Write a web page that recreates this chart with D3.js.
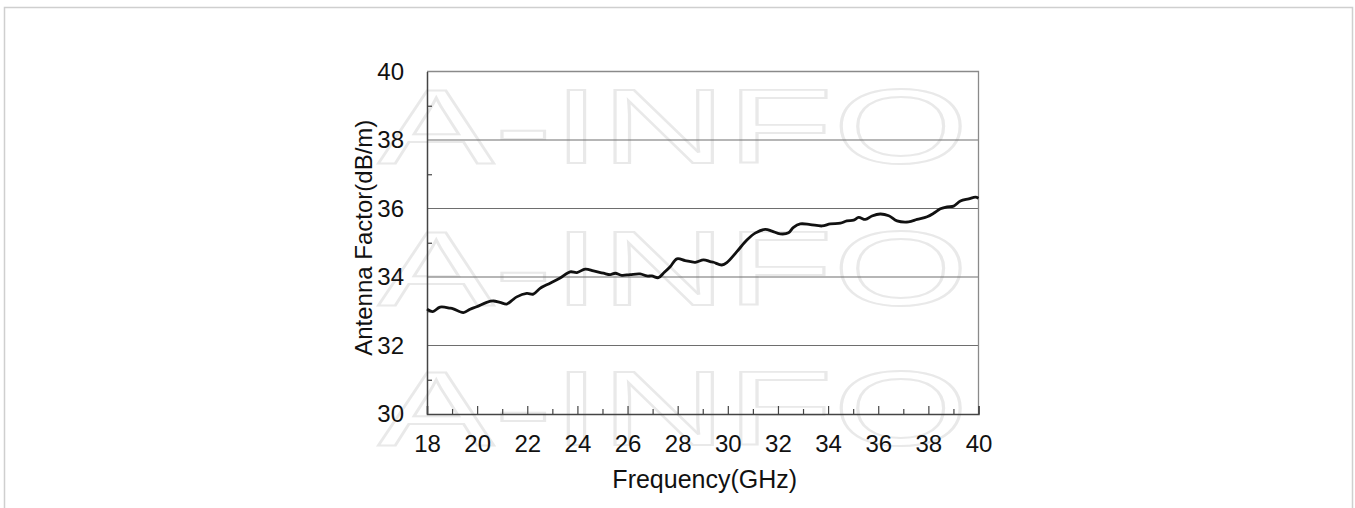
<!DOCTYPE html>
<html>
<head>
<meta charset="utf-8">
<script src="https://cdn.jsdelivr.net/npm/d3@7"></script>
<style>
  html, body { margin: 0; padding: 0; background: #fff; }
  svg { display: block; }
  text { font-family: "Liberation Sans", Arial, sans-serif; }
</style>
</head>
<body>
<svg id="chart" width="1355" height="508"></svg>
<script>
// ---- data ----
const freqGHz = [18.0,18.23,18.52,18.92,19.05,19.45,19.72,19.98,20.38,20.65,20.91,21.18,21.38,21.58,21.98,22.24,22.51,22.91,23.31,23.71,23.98,24.31,24.64,25.04,25.31,25.51,25.77,26.10,26.50,26.77,26.97,27.23,27.43,27.70,27.97,28.30,28.70,29.03,29.30,29.43,29.76,29.96,30.36,30.76,31.09,31.49,31.76,32.09,32.42,32.62,32.89,33.29,33.76,34.09,34.49,34.75,35.02,35.22,35.49,35.75,36.08,36.42,36.75,37.21,37.55,37.95,38.21,38.48,38.75,39.01,39.28,39.61,39.88,40.0];
const antennaFactor = [33.06,32.99,33.12,33.09,33.07,32.96,33.06,33.13,33.26,33.30,33.26,33.21,33.31,33.42,33.52,33.50,33.67,33.82,33.97,34.15,34.13,34.23,34.18,34.11,34.07,34.11,34.05,34.07,34.09,34.03,34.03,33.98,34.11,34.30,34.53,34.48,34.43,34.50,34.45,34.43,34.35,34.42,34.74,35.08,35.28,35.39,35.34,35.26,35.29,35.45,35.55,35.53,35.49,35.55,35.57,35.64,35.66,35.74,35.68,35.78,35.84,35.79,35.64,35.61,35.68,35.76,35.86,35.99,36.05,36.07,36.22,36.28,36.33,36.30];
const xTicks = [18,20,22,24,26,28,30,32,34,36,38,40];
const xMinorTicks = [19,21,23,25,27,29,31,33,35,37,39];
const yTicks = [30,32,34,36,38,40];
const yMinorTicks = [31,33,35,37,39];
const xTitle = "Frequency(GHz)";
const yTitle = "Antenna Factor(dB/m)";
const watermark = "A-INFO";

// ---- layout ----
const svg = d3.select("#chart");
const L = 427, R = 978.5, T = 71.5, B = 414;
const x = d3.scaleLinear().domain([18, 40]).range([L, R]);
const y = d3.scaleLinear().domain([30, 40]).range([B, T]);

// page frame
svg.append("rect").attr("x", 4.5).attr("y", 7.5).attr("width", 1348).attr("height", 520)
  .attr("fill", "none").attr("stroke", "#cfcfcf").attr("stroke-width", 1.5);

// watermark
const wmRows = [163, 305, 445];
wmRows.forEach(by => {
  svg.append("text")
    .attr("transform", `translate(378,${by}) scale(1.66,1)`)
    .attr("font-size", 105)
    .attr("fill", "none")
    .attr("stroke", "#e9e9e9")
    .attr("stroke-width", 1.9)
    .text(watermark);
});

// gridlines
svg.append("g").selectAll("line").data(yTicks.filter(v => v > 30 && v < 40)).join("line")
  .attr("x1", L).attr("x2", R).attr("y1", d => y(d)).attr("y2", d => y(d))
  .attr("stroke", "#6e6e6e").attr("stroke-width", 1.2);

// frame (top/right)
svg.append("path").attr("d", `M${L},${T}H${R}V${B}`)
  .attr("fill", "none").attr("stroke", "#8a8a8a").attr("stroke-width", 1.3);

// x axis
const xAxis = d3.axisBottom(x).tickValues(xTicks).tickSize(-8).tickPadding(21)
  .tickFormat(d3.format("d"));
const gx = svg.append("g").attr("transform", `translate(0,${B})`).call(xAxis);
gx.select(".domain").attr("stroke", "#444").attr("stroke-width", 1.5);
gx.selectAll(".tick line").attr("stroke", "#444").attr("stroke-width", 1.2);
gx.selectAll(".tick text").attr("font-size", 24).attr("fill", "#111")
  .attr("font-family", "Liberation Sans, Arial, sans-serif");
const gxm = svg.append("g").attr("transform", `translate(0,${B})`)
  .call(d3.axisBottom(x).tickValues(xMinorTicks).tickSize(-5).tickFormat(""));
gxm.select(".domain").remove();
gxm.selectAll(".tick line").attr("stroke", "#444").attr("stroke-width", 1.2);

// y axis
const yAxis = d3.axisLeft(y).tickValues(yTicks).tickSize(0).tickPadding(23)
  .tickFormat(d3.format("d"));
const gy = svg.append("g").attr("transform", `translate(${L},0)`).call(yAxis);
gy.select(".domain").attr("stroke", "#444").attr("stroke-width", 1.5);
gy.selectAll(".tick text").attr("font-size", 24).attr("fill", "#111")
  .attr("font-family", "Liberation Sans, Arial, sans-serif");
const gym = svg.append("g").attr("transform", `translate(${L},0)`)
  .call(d3.axisLeft(y).tickValues(yMinorTicks).tickSize(-5).tickFormat(""));
gym.select(".domain").remove();
gym.selectAll(".tick line").attr("stroke", "#444").attr("stroke-width", 1.2);

// titles
svg.append("text").attr("x", (L + R) / 2 + 2).attr("y", 488)
  .attr("text-anchor", "middle").attr("font-size", 25).attr("fill", "#111").text(xTitle);
svg.append("text").attr("transform", `translate(372,${(T + B) / 2 - 5}) rotate(-90)`)
  .attr("text-anchor", "middle").attr("font-size", 24).attr("fill", "#111").text(yTitle);

// line
const data = freqGHz.map((f, i) => ({ f, v: antennaFactor[i] }));
svg.append("path").datum(data)
  .attr("fill", "none").attr("stroke", "#111").attr("stroke-width", 2.8)
  .attr("stroke-linejoin", "round")
  .attr("d", d3.line().x(d => x(d.f)).y(d => y(d.v)).curve(d3.curveCatmullRom));
</script>
</body>
</html>
